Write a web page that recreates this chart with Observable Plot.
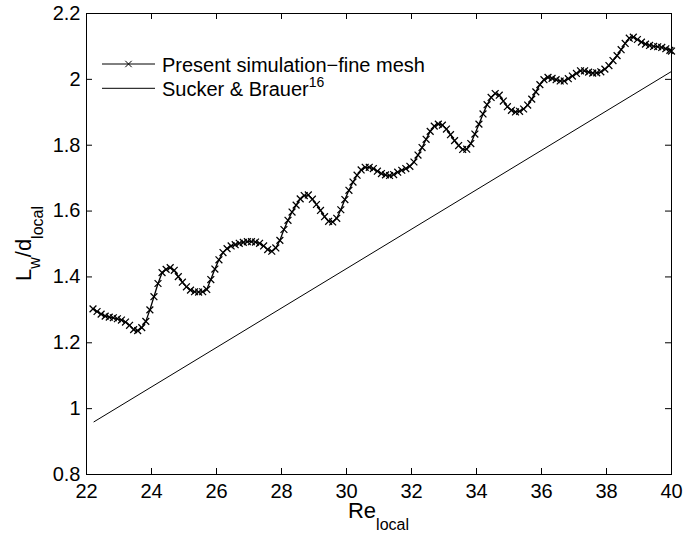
<!DOCTYPE html>
<html>
<head>
<meta charset="utf-8">
<script src="https://cdn.jsdelivr.net/npm/d3@7"></script>
<script src="https://cdn.jsdelivr.net/npm/@observablehq/plot@0.6"></script>
<style>
  html, body { margin: 0; padding: 0; background: #fff; }
  #chart svg { display: block; }
</style>
</head>
<body>
<div id="chart"></div>
<script>
// ---- data ----
const simRe = [
  22.2, 22.325, 22.45, 22.575, 22.7, 22.825, 22.95, 23.075, 23.2, 23.325,
  23.45, 23.575, 23.7, 23.825, 23.95, 24.075, 24.2, 24.325, 24.45, 24.575,
  24.7, 24.825, 24.95, 25.075, 25.2, 25.325, 25.45, 25.575, 25.7, 25.825,
  25.95, 26.075, 26.2, 26.325, 26.45, 26.575, 26.7, 26.825, 26.95, 27.075,
  27.2, 27.325, 27.45, 27.575, 27.7, 27.825, 27.95, 28.075, 28.2, 28.325,
  28.45, 28.575, 28.7, 28.825, 28.95, 29.075, 29.2, 29.325, 29.45, 29.575,
  29.7, 29.825, 29.95, 30.075, 30.2, 30.325, 30.45, 30.575, 30.7, 30.825,
  30.95, 31.075, 31.2, 31.325, 31.45, 31.575, 31.7, 31.825, 31.95, 32.075,
  32.2, 32.325, 32.45, 32.575, 32.7, 32.825, 32.95, 33.075, 33.2, 33.325,
  33.45, 33.575, 33.7, 33.825, 33.95, 34.075, 34.2, 34.325, 34.45, 34.575,
  34.7, 34.825, 34.95, 35.075, 35.2, 35.325, 35.45, 35.575, 35.7, 35.825,
  35.95, 36.075, 36.2, 36.325, 36.45, 36.575, 36.7, 36.825, 36.95, 37.075,
  37.2, 37.325, 37.45, 37.575, 37.7, 37.825, 37.95, 38.075, 38.2, 38.325,
  38.45, 38.575, 38.7, 38.825, 38.95, 39.075, 39.2, 39.325, 39.45, 39.575,
  39.7, 39.825, 39.95, 40.0
];
const simL = [
  1.303, 1.295, 1.287, 1.281, 1.278, 1.276, 1.273, 1.269, 1.263, 1.253,
  1.240, 1.237, 1.246, 1.265, 1.300, 1.340, 1.380, 1.413, 1.423, 1.428,
  1.420, 1.401, 1.384, 1.370, 1.360, 1.355, 1.354, 1.355, 1.362, 1.392,
  1.424, 1.452, 1.474, 1.486, 1.494, 1.498, 1.502, 1.505, 1.507, 1.507,
  1.506, 1.502, 1.494, 1.483, 1.478, 1.488, 1.511, 1.544, 1.572, 1.597,
  1.618, 1.637, 1.647, 1.649, 1.636, 1.620, 1.602, 1.583, 1.569, 1.567,
  1.578, 1.604, 1.635, 1.663, 1.688, 1.709, 1.725, 1.733, 1.733, 1.729,
  1.721, 1.714, 1.710, 1.708, 1.711, 1.718, 1.724, 1.729, 1.736, 1.749,
  1.770, 1.793, 1.818, 1.842, 1.858, 1.864, 1.861, 1.849, 1.832, 1.814,
  1.799, 1.787, 1.788, 1.805, 1.834, 1.864, 1.895, 1.923, 1.945, 1.957,
  1.952, 1.934, 1.917, 1.906, 1.901, 1.903, 1.910, 1.922, 1.940, 1.962,
  1.984, 1.999, 2.006, 2.003, 1.999, 1.995, 1.995, 2.002, 2.010, 2.018,
  2.026, 2.026, 2.022, 2.019, 2.020, 2.023, 2.031, 2.042, 2.057, 2.072,
  2.090, 2.109, 2.125, 2.128, 2.121, 2.113, 2.107, 2.103, 2.100, 2.099,
  2.097, 2.093, 2.088, 2.086
];
const suckerRe = [22.23, 40];
const suckerL = [0.96, 2.024];

const xTicks = [22, 24, 26, 28, 30, 32, 34, 36, 38, 40];
const xTickLabels = ["22", "24", "26", "28", "30", "32", "34", "36", "38", "40"];
const yTicks = [0.8, 1, 1.2, 1.4, 1.6, 1.8, 2, 2.2];
const yTickLabels = ["0.8", "1", "1.2", "1.4", "1.6", "1.8", "2", "2.2"];

const legendLabels = ["Present simulation\u2212fine mesh", "Sucker & Brauer"];
const legendSup = "16";
const xLabelParts = ["Re", "local"];
const yLabelParts = ["L", "w", "/d", "local"];

// ---- layout ----
const W = 685, H = 536;
const mL = 86, mR = 14, mT = 13, mB = 62;
const innerW = W - mL - mR, innerH = H - mT - mB;
const tickLen = 6;
const font = "'Liberation Sans', Arial, Helvetica, sans-serif";

const sim = simRe.map((x, i) => ({x, y: simL[i]}));
const suck = suckerRe.map((x, i) => ({x, y: suckerL[i]}));

const chart = Plot.plot({
  width: W, height: H,
  marginLeft: mL, marginRight: mR, marginTop: mT, marginBottom: mB,
  style: {fontFamily: font, color: "#000", background: "#fff", overflow: "visible"},
  x: {domain: [22, 40]},
  y: {domain: [0.8, 2.2]},
  marks: [
    Plot.line(suck, {x: "x", y: "y", stroke: "#000", strokeWidth: 1}),
    Plot.line(sim, {x: "x", y: "y", stroke: "#000", strokeWidth: 1.3}),
    Plot.dot(sim, {x: "x", y: "y", symbol: "times", r: 3.2, stroke: "#000", strokeWidth: 1.25}),
    Plot.tickX(xTicks, {x: d => d, insetTop: innerH - tickLen, stroke: "#000"}),
    Plot.tickX(xTicks, {x: d => d, insetBottom: innerH - tickLen, stroke: "#000"}),
    Plot.tickY(yTicks, {y: d => d, insetRight: innerW - tickLen, stroke: "#000"}),
    Plot.tickY(yTicks, {y: d => d, insetLeft: innerW - tickLen, stroke: "#000"}),
    Plot.axisX(xTicks, {tickSize: 0, tickPadding: 9.5, fontSize: 20, label: null,
      tickFormat: d => xTickLabels[xTicks.indexOf(d)]}),
    Plot.axisY(yTicks, {tickSize: 0, tickPadding: 6, fontSize: 20, label: null,
      tickFormat: d => yTickLabels[yTicks.indexOf(d)]}),
    Plot.frame({stroke: "#000", strokeWidth: 1})
  ]
});
document.getElementById("chart").appendChild(chart);

// ---- axis labels and legend (text) ----
const svg = d3.select(chart);
const cx = mL + innerW / 2, cy = mT + innerH / 2;

const xl = svg.append("text")
  .attr("x", cx).attr("y", H - 18)
  .attr("text-anchor", "middle")
  .attr("font-family", font).attr("font-size", 22).attr("fill", "#000");
xl.append("tspan").text(xLabelParts[0]);
xl.append("tspan").attr("font-size", 16).attr("dy", 12).text(xLabelParts[1]);

const yl = svg.append("text")
  .attr("transform", `translate(${30.5},${cy}) rotate(-90)`)
  .attr("text-anchor", "middle")
  .attr("font-family", font).attr("font-size", 22).attr("fill", "#000");
yl.append("tspan").text(yLabelParts[0]);
yl.append("tspan").attr("font-size", 16).attr("dy", 9).text(yLabelParts[1]);
yl.append("tspan").attr("dy", -9).text(yLabelParts[2]);
yl.append("tspan").attr("font-size", 16).attr("dy", 12).text(yLabelParts[3]);

// legend
const lg = svg.append("g").attr("font-family", font).attr("font-size", 20)
  .attr("fill", "#000").attr("text-anchor", "start");
const lx0 = mL + 16, lx1 = mL + 69, ltx = mL + 76;
const rows = [mT + 51, mT + 75.3];
rows.forEach((ry, i) => {
  lg.append("line").attr("x1", lx0).attr("x2", lx1).attr("y1", ry).attr("y2", ry)
    .attr("stroke", "#000").attr("stroke-width", 1);
  const t = lg.append("text").attr("x", ltx).attr("y", ry + 7.5).attr("text-anchor", "start");
  t.append("tspan").text(legendLabels[i]);
  if (i === 1) t.append("tspan").attr("font-size", 14).attr("dy", -8.5).text(legendSup);
});
lg.append("path")
  .attr("transform", `translate(${(lx0 + lx1) / 2},${rows[0]})`)
  .attr("d", d3.symbol(d3.symbolTimes, 28.27)())
  .attr("fill", "none").attr("stroke", "#000").attr("stroke-width", 1);
</script>
</body>
</html>
